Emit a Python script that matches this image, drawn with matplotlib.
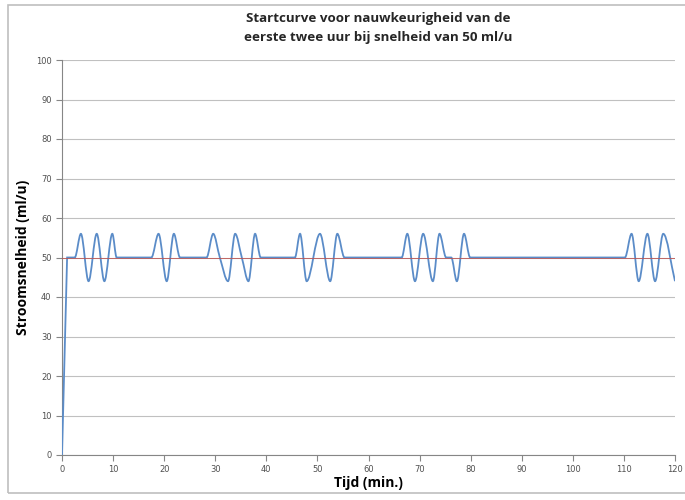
import matplotlib.pyplot as plt
import numpy as np
from matplotlib.path import Path
from matplotlib.patches import PathPatch, Rectangle

# flow rate (min, ml/u): baseline, peaks and troughs
tijd = [0, 1, 2.5,
        3.7, 5.2, 6.8, 8.3, 9.85, 10.7,
        17.5, 18.9, 20.5, 21.9, 23.1,
        28.3, 29.6, 30.9, 32.5, 33.9, 35.2, 36.5, 37.8, 38.9,
        45.6, 46.6, 47.9, 50.5, 52.5, 53.9, 55.3,
        66.5, 67.6, 69.1, 70.7, 72.6, 73.9, 75.2, 76.2, 77.3, 78.7, 79.9,
        110.2, 111.5, 112.9, 114.6, 116.1, 117.7, 120]
stroom = [0, 50, 50,
          56, 44, 56, 44, 56, 50,
          50, 56, 44, 56, 50,
          50, 56, 50, 44, 56, 50, 44, 56, 50,
          50, 56, 44, 56, 44, 56, 50,
          50, 56, 44, 56, 44, 56, 50, 50, 44, 56, 50,
          50, 56, 44, 56, 44, 56, 44]
doel_x = [0, 120]
doel_y = [50, 50]

blauw = '#5b8cc8'
rood = '#c0504d'
grijs = '#868686'

fig = plt.figure(figsize=(6.85, 5), dpi=100)
fig.patches.append(Rectangle((8/685, 7/500), 1, 1 - 12/500, transform=fig.transFigure,
                             fill=False, edgecolor='#bfbfbf', lw=1.2))
ax = fig.add_axes([62/685, 45/500, 613/685, 395/500])

# smoothed line (cubic hermite segments, flat at peaks and troughs)
x = np.array(tijd, float)
y = np.array(stroom, float)
sec = np.diff(y) / np.diff(x)
m = np.zeros(len(x))
for i in range(1, len(x) - 1):
    if sec[i - 1] * sec[i] > 0:
        m[i] = 2 / (1 / sec[i - 1] + 1 / sec[i])
m[0] = sec[0]
m[-1] = sec[-1]
m[1] = 0
verts = [(x[0], y[0])]
codes = [Path.MOVETO]
for i in range(len(x) - 1):
    dx = x[i + 1] - x[i]
    if i == 0:
        verts += [(x[0], y[0]), (x[1], y[1]), (x[1], y[1])]
    else:
        verts += [(x[i] + dx / 3, y[i] + m[i] * dx / 3),
                  (x[i + 1] - dx / 3, y[i + 1] - m[i + 1] * dx / 3),
                  (x[i + 1], y[i + 1])]
    codes += [Path.CURVE4] * 3
ax.add_patch(PathPatch(Path(verts, codes), facecolor='none', edgecolor=blauw, lw=1.3, zorder=3))

ax.plot(doel_x, doel_y, color=rood, lw=0.7, alpha=0.8, zorder=4)

ax.set_xlim(0, 120)
ax.set_ylim(0, 100)
ax.set_xticks(range(0, 121, 10))
ax.set_yticks(range(0, 101, 10))
ax.grid(axis='y', color='#a6a6a6', lw=0.8, alpha=0.7)
ax.set_axisbelow(True)
for s in ['top', 'right']:
    ax.spines[s].set_visible(False)
for s in ['left', 'bottom']:
    ax.spines[s].set_color(grijs)
ax.tick_params(axis='both', colors=grijs, labelcolor='#505050', labelsize=6, length=4, width=0.8)

ax.set_xlabel('Tijd (min.)', fontsize=10, fontweight='bold', family='Open Sans', labelpad=1)
ax.set_ylabel('Stroomsnelheid (ml/u)', fontsize=10, fontweight='bold', family='Open Sans', labelpad=4)
fig.text(378/685, 1 - 28/500, 'Startcurve voor nauwkeurigheid van de\neerste twee uur bij snelheid van 50 ml/u',
         ha='center', va='center', fontsize=9.6, fontweight='bold', family='Open Sans',
         color='#262626', linespacing=1.6)

fig.savefig('out.png', dpi=100)
